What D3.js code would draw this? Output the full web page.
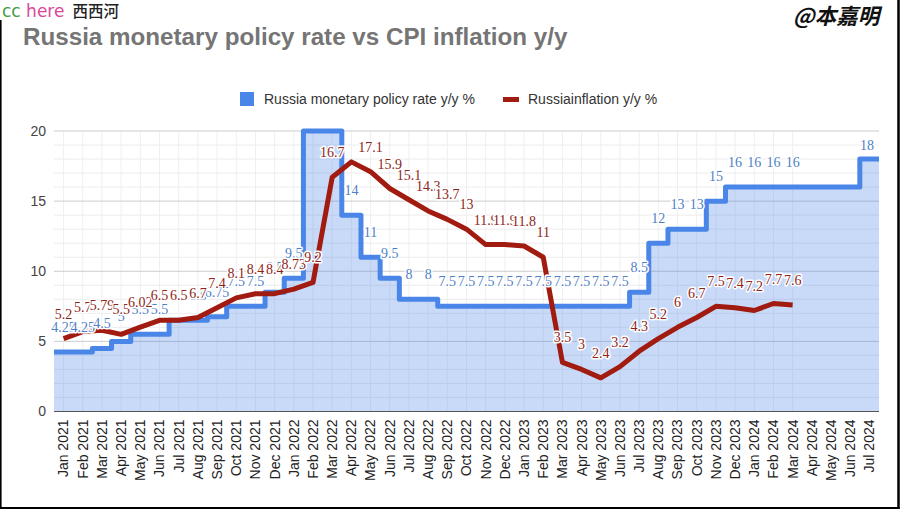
<!DOCTYPE html>
<html><head><meta charset="utf-8">
<script src="https://cdn.jsdelivr.net/npm/d3@7"></script>
<style>body{margin:0;background:#fff;} svg{display:block;}</style>
</head><body><svg id="c" width="902" height="510"></svg>
<script>
const months = ["Jan 2021","Feb 2021","Mar 2021","Apr 2021","May 2021","Jun 2021","Jul 2021","Aug 2021","Sep 2021","Oct 2021","Nov 2021","Dec 2021",
"Jan 2022","Feb 2022","Mar 2022","Apr 2022","May 2022","Jun 2022","Jul 2022","Aug 2022","Sep 2022","Oct 2022","Nov 2022","Dec 2022",
"Jan 2023","Feb 2023","Mar 2023","Apr 2023","May 2023","Jun 2023","Jul 2023","Aug 2023","Sep 2023","Oct 2023","Nov 2023","Dec 2023",
"Jan 2024","Feb 2024","Mar 2024","Apr 2024","May 2024","Jun 2024","Jul 2024"];
const policyRate = [4.25,4.25,4.5,5,5.5,5.5,6.5,6.5,6.75,7.5,7.5,8.5,
9.5,20,20,14,11,9.5,8,8,7.5,7.5,7.5,7.5,
7.5,7.5,7.5,7.5,7.5,7.5,8.5,12,13,13,15,16,
16,16,16,16,16,16,18];
const policyLabels = ["4.25","4.25","4.5","5","5.5","5.5","6.5","6.5","6.75","7.5","7.5","8.5",
"9.5","","","14","11","9.5","8","8","7.5","7.5","7.5","7.5",
"7.5","7.5","7.5","7.5","7.5","7.5","8.5","12","13","13","15","16",
"16","16","16","","","","18"];
const inflation = [5.2,5.7,5.79,5.5,6.02,6.5,6.5,6.7,7.4,8.1,8.4,8.4,
8.73,9.2,16.7,17.8,17.1,15.9,15.1,14.3,13.7,13,11.9,11.9,
11.8,11,3.5,3,2.4,3.2,4.3,5.2,6,6.7,7.5,7.4,
7.2,7.7,7.6,null,null,null,null];
const inflationLabels = ["5.2","5.7","5.79","5.5","6.02","6.5","6.5","6.7","7.4","8.1","8.4","8.4",
"8.73","9.2","16.7","","17.1","15.9","15.1","14.3","13.7","13","11.9","11.9",
"11.8","11","3.5","3","2.4","3.2","4.3","5.2","6","6.7","7.5","7.4",
"7.2","7.7","7.6","","","",""];
const yTicks = [0,5,10,15,20];
const seriesNames = ["Russia monetary policy rate y/y %","Russiainflation y/y %"];
const titleText = "Russia monetary policy rate vs CPI inflation y/y";

const W = 902, H = 510;
const blue = "#4a86e8", red = "#a11b10";
const plot = {left:54, right:879, top:131, bottom:411.5};
const svg = d3.select("#c");
svg.append("rect").attr("width",W).attr("height",H).attr("fill","#fff");

const x = d3.scaleBand().domain(d3.range(months.length)).range([plot.left, plot.right]).padding(0);
const y = d3.scaleLinear().domain([0,20]).range([plot.bottom, plot.top]);
const bw = x.bandwidth();
const cx = i => x(i) + bw/2;

svg.append("defs").append("clipPath").attr("id","clip").append("rect")
  .attr("x",plot.left).attr("y",plot.top-3).attr("width",plot.right-plot.left).attr("height",plot.bottom-plot.top+3);

// gridlines
const grid = svg.append("g");
grid.selectAll("line.minor").data(d3.range(1,20).filter(v=>v%5!==0)).join("line")
  .attr("x1",plot.left).attr("x2",plot.right).attr("y1",d=>y(d)).attr("y2",d=>y(d))
  .attr("stroke","#ececec").attr("stroke-width",1);
grid.selectAll("line.vert").data(d3.range(months.length).filter(i=>inflation[i]!==null)).join("line")
  .attr("x1",d=>cx(d)).attr("x2",d=>cx(d)).attr("y1",plot.top).attr("y2",plot.bottom)
  .attr("stroke","#efefef").attr("stroke-width",1);
grid.selectAll("line.major").data(yTicks.filter(v=>v>0)).join("line")
  .attr("x1",plot.left).attr("x2",plot.right).attr("y1",d=>y(d)).attr("y2",d=>y(d))
  .attr("stroke","#cccccc").attr("stroke-width",1);

// stepped area
const stepPts = policyRate.map((v,i)=>({x:x(i), v}));
stepPts.push({x:x(months.length-1)+bw, v:policyRate[policyRate.length-1]});
const g = svg.append("g").attr("clip-path","url(#clip)");
g.append("path").datum(stepPts)
  .attr("d", d3.area().x(d=>d.x).y0(y(0)).y1(d=>y(d.v)).curve(d3.curveStepAfter))
  .attr("fill",blue).attr("fill-opacity",0.3);
g.append("path").datum(stepPts)
  .attr("d", d3.line().x(d=>d.x).y(d=>y(d.v)).curve(d3.curveStepAfter))
  .attr("fill","none").attr("stroke",blue).attr("stroke-width",5).attr("stroke-linejoin","round");

// baseline
svg.append("line").attr("x1",plot.left).attr("x2",plot.right).attr("y1",y(0)).attr("y2",y(0))
  .attr("stroke","#555").attr("stroke-width",1.2);

// inflation line
const infPts = inflation.map((v,i)=>({i,v}));
g.append("path").datum(infPts)
  .attr("d", d3.line().defined(d=>d.v!==null).x(d=>cx(d.i)).y(d=>y(d.v)))
  .attr("fill","none").attr("stroke",red).attr("stroke-width",5)
  .attr("stroke-linejoin","round").attr("stroke-linecap","butt");

// data labels (kept inside the plot area)
function labels(vals, texts, color){
  const lg = svg.append("g").attr("font-family","'Liberation Serif', 'DejaVu Serif', serif").attr("font-size",14)
    .attr("text-anchor","middle");
  vals.forEach((v,i)=>{
    if (v===null || !texts[i]) return;
    const ly = Math.max(y(v)-20, plot.top+19);
    const lx = Math.min(cx(i), plot.right - 12);
    lg.append("text").attr("x",lx).attr("y",ly).text(texts[i])
      .attr("fill",color).attr("stroke","#fff").attr("stroke-width",3)
      .attr("stroke-linejoin","round").attr("paint-order","stroke");
  });
}
labels(policyRate, policyLabels, "#4f80c6");
labels(inflation, inflationLabels, "#8e2418");

// axes
const yAxis = svg.append("g").attr("transform",`translate(${plot.left},0)`)
  .call(d3.axisLeft(y).tickValues(yTicks).tickSize(0).tickPadding(8));
yAxis.select(".domain").remove();
yAxis.selectAll("text").attr("font-family","'Liberation Sans', Arial, sans-serif").attr("font-size",14).attr("fill","#444");

const xAxis = svg.append("g").attr("transform",`translate(0,${plot.bottom})`)
  .call(d3.axisBottom(x).tickFormat(i=>months[i]).tickSize(0));
xAxis.select(".domain").remove();
xAxis.selectAll("text").attr("font-family","'Liberation Sans', Arial, sans-serif").attr("font-size",14).attr("fill","#222")
  .attr("transform","rotate(-90)").attr("text-anchor","end").attr("x",-8).attr("y",0).attr("dy","0.35em");

// title
svg.append("text").attr("x",23).attr("y",45).text(titleText)
  .attr("font-family","'Liberation Sans', Arial, sans-serif").attr("font-weight","bold").attr("font-size",24.2).attr("fill","#757575");

// legend
const leg = svg.append("g").attr("font-family","'Liberation Sans', Arial, sans-serif").attr("font-size",14).attr("fill","#333");
leg.append("rect").attr("x",240).attr("y",92).attr("width",14).attr("height",14).attr("fill",blue);
leg.append("text").attr("x",264).attr("y",104).text(seriesNames[0]);
leg.append("rect").attr("x",503).attr("y",97).attr("width",16).attr("height",5).attr("fill",red);
leg.append("text").attr("x",528).attr("y",104).text(seriesNames[1]);

// watermarks
const wm = svg.append("text").attr("x",2).attr("y",17).attr("font-size",17);
wm.append("tspan").text("cc").attr("fill","#3f9c43").attr("font-family","'DejaVu Sans', sans-serif");
wm.append("tspan").text(" here").attr("fill","#d9489a").attr("font-family","'DejaVu Sans', sans-serif");
wm.append("tspan").text("西西河").attr("dx",8).attr("fill","#222").attr("font-family","'Noto Sans CJK SC'").attr("font-size",15.5).attr("font-weight",500);
svg.append("text").attr("x",793).attr("y",24).text("@本嘉明")
  .attr("font-family","'Noto Sans CJK SC'").attr("font-size",21.5).attr("font-weight","bold").attr("font-style","italic").attr("fill","#111");

// frame
svg.append("line").attr("x1",0.8).attr("x2",0.8).attr("y1",20).attr("y2",509).attr("stroke","#000").attr("stroke-width",1.6);
svg.append("line").attr("x1",898.5).attr("x2",898.5).attr("y1",0).attr("y2",509).attr("stroke","#000").attr("stroke-width",2.5);
svg.append("line").attr("x1",0).attr("x2",899.5).attr("y1",508).attr("y2",508).attr("stroke","#000").attr("stroke-width",2);
</script></body></html>
